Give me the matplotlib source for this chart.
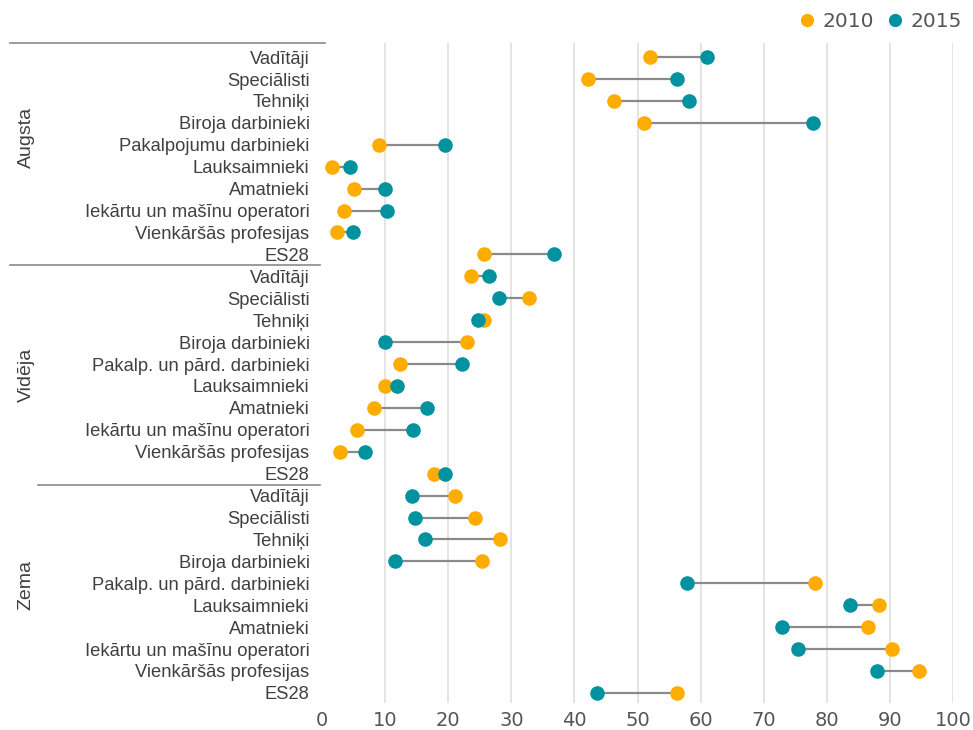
import matplotlib.pyplot as plt
from matplotlib.lines import Line2D
from matplotlib.transforms import blended_transform_factory

# data
groups = ['Augsta', 'Vidēja', 'Zema']
occ_augsta = ['Vadītāji', 'Speciālisti', 'Tehniķi', 'Biroja darbinieki',
              'Pakalpojumu darbinieki', 'Lauksaimnieki', 'Amatnieki',
              'Iekārtu un mašīnu operatori', 'Vienkāršās profesijas', 'ES28']
occ_other = ['Vadītāji', 'Speciālisti', 'Tehniķi', 'Biroja darbinieki',
             'Pakalp. un pārd. darbinieki', 'Lauksaimnieki', 'Amatnieki',
             'Iekārtu un mašīnu operatori', 'Vienkāršās profesijas', 'ES28']

augsta_2010 = [52.0, 42.2, 46.2, 51.1, 9.1, 1.6, 5.1, 3.5, 2.3, 25.7]
augsta_2015 = [61.0, 56.3, 58.2, 77.8, 19.5, 4.4, 9.9, 10.3, 4.9, 36.8]
videja_2010 = [23.6, 32.8, 25.7, 22.9, 12.3, 9.9, 8.3, 5.5, 2.8, 17.7]
videja_2015 = [26.4, 28.0, 24.7, 9.9, 22.2, 11.8, 16.6, 14.4, 6.8, 19.5]
zema_2010 = [21.0, 24.2, 28.2, 25.4, 78.1, 88.3, 86.5, 90.4, 94.6, 56.2]
zema_2015 = [14.3, 14.7, 16.3, 11.6, 57.9, 83.6, 72.9, 75.4, 88.0, 43.5]

labels = occ_augsta + occ_other + occ_other
v2010 = augsta_2010 + videja_2010 + zema_2010
v2015 = augsta_2015 + videja_2015 + zema_2015

c2010 = '#FFAC00'
c2015 = '#00929F'
txt = '#404040'

fig = plt.figure(figsize=(9.73, 7.30), dpi=100)
ax = fig.add_axes([0.331, 0.037, 0.6485, 0.904])

ys = list(range(len(labels)))
for y, a, b in zip(ys, v2010, v2015):
    ax.plot([a, b], [y, y], color='#8a8a8a', lw=1.6, zorder=2)
ax.scatter(v2010, ys, s=110, color=c2010, zorder=3, clip_on=False, linewidths=0)
ax.scatter(v2015, ys, s=110, color=c2015, zorder=4, clip_on=False, linewidths=0)

ax.set_xlim(0, 100)
ax.set_ylim(29.46, -0.64)
ax.set_xticks(range(0, 101, 10))
ax.set_yticks(ys)
ax.set_yticklabels(labels, fontfamily='Liberation Sans', fontsize=13.2, color=txt)
ax.tick_params(axis='y', length=0, pad=9)
ax.tick_params(axis='x', length=0, pad=6, labelsize=14, labelcolor='#555555')
ax.grid(axis='x', color='#e2e2e2', lw=1.3)
ax.get_xgridlines()[0].set_visible(False)
ax.set_axisbelow(True)
for s in ax.spines.values():
    s.set_visible(False)

# group separators and labels
tr = blended_transform_factory(fig.transFigure, ax.transData)
for x0, x1, yy in [(10 / 973, 325 / 973, -0.64), (10 / 973, 320 / 973, 9.5), (38 / 973, 320 / 973, 19.5)]:
    fig.add_artist(Line2D([x0, x1], [yy, yy], transform=tr, color='#8a8a8a', lw=1.2))
for name, yy in zip(groups, [3.65, 14.5, 24.1]):
    fig.text(26 / 973, yy, name, transform=tr, rotation=90, ha='center', va='center',
             fontsize=14, color=txt, fontfamily='Liberation Sans')

# legend
handles = [Line2D([], [], marker='o', ls='', color=c2010, markersize=8.5, label='2010'),
           Line2D([], [], marker='o', ls='', color=c2015, markersize=8.5, label='2015')]
fig.legend(handles=handles, loc='upper right', bbox_to_anchor=(962 / 973, 1 - 12 / 730), ncol=2,
           frameon=False, handletextpad=0.3, columnspacing=0.5, handlelength=1.0,
           borderpad=0, borderaxespad=0,
           prop={'size': 14.5}, labelcolor='#555555')

fig.savefig('out.png', dpi=100)
